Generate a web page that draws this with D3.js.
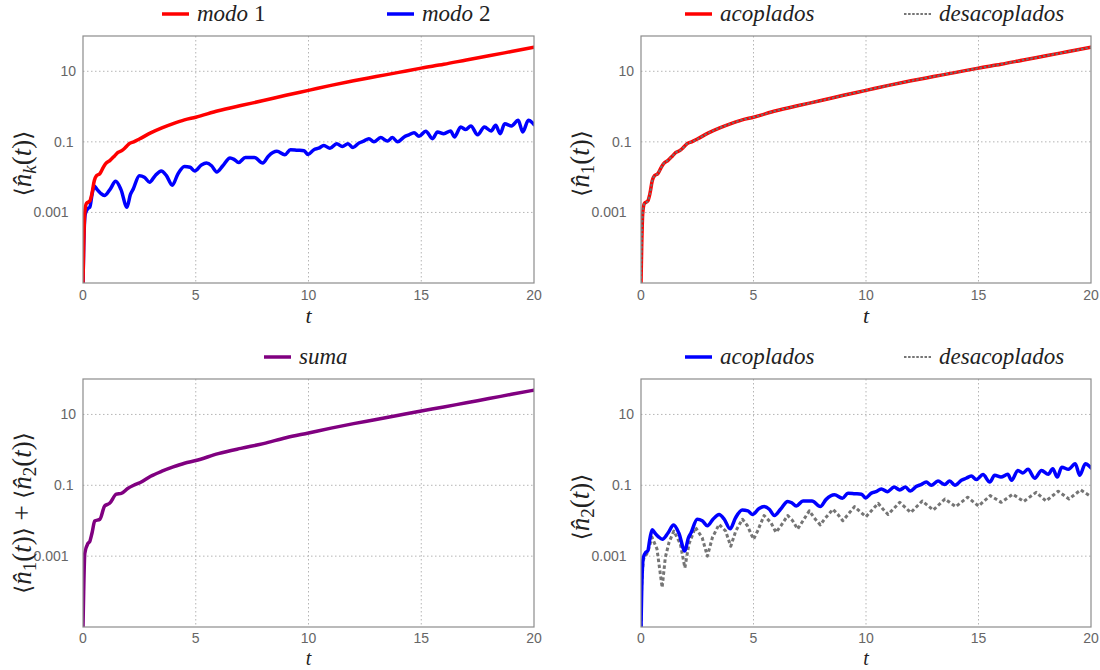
<!DOCTYPE html>
<html><head><meta charset="utf-8">
<script src="https://cdn.jsdelivr.net/npm/d3@7"></script>
<style>body{margin:0;background:#fff}</style>
</head><body>
<svg id="c" width="1100" height="670"></svg>
<script>
// ---------- data ----------
const tN1 = [0,0.03,0.08,0.15,0.3,0.4,0.5,0.6,0.75,0.9,1.0,1.2,1.4,1.55,1.75,1.9,2.05,2.25,2.5,3,3.5,4,4.5,5,6,7,8,9,10,11,12,13,14,15,16,17,18,19,20];
const n1Acoplados = [0.00001,0.0001,0.001,0.0018,0.0021,0.0035,0.0079,0.011,0.0126,0.019,0.024,0.030,0.040,0.050,0.058,0.071,0.089,0.10,0.12,0.18,0.25,0.33,0.42,0.50,0.76,1.07,1.48,2.09,2.88,3.98,5.37,7.08,9.33,12.3,15.8,20.9,27.5,36.3,47.9];
const n1Desacoplados = [0.00001,0.0001,0.001,0.0018,0.0021,0.0035,0.0079,0.011,0.0126,0.019,0.024,0.030,0.040,0.050,0.058,0.071,0.089,0.10,0.12,0.18,0.25,0.33,0.42,0.50,0.76,1.07,1.48,2.09,2.88,3.98,5.37,7.08,9.33,12.3,15.8,20.9,27.5,36.3,47.9];

const tN2 = [0,0.03,0.1,0.22,0.3,0.4,0.5,0.62,0.78,0.95,
  1.2,1.45,1.68,1.95,2.1,2.22,2.5,2.72,2.95,3.2,
  3.47,3.7,3.96,4.2,4.5,4.75,4.95,5.25,5.47,5.7,
  5.93,6.2,6.52,6.7,6.9,7.2,7.6,7.97,8.23,8.6,
  8.95,9.2,9.5,9.8,9.98,10.24,10.45,10.68,10.95,11.25,
  11.5,11.75,11.97,12.24,12.45,12.68,12.9,13.2,13.5,13.72,
  13.95,14.24,14.45,14.68,14.9,15.2,15.5,15.72,16.0,16.3,
  16.47,16.75,16.97,17.2,17.5,17.8,18.1,18.3,18.5,18.7,
  19.0,19.3,19.5,19.75,20];
const n2Acoplados = [0.00001,0.0001,0.00089,0.0013,0.0014,0.0032,0.0056,0.0045,0.0035,0.0030,
  0.0045,0.0076,0.0045,0.0014,0.0032,0.0045,0.011,0.010,0.0072,0.011,
  0.015,0.011,0.0059,0.012,0.020,0.019,0.015,0.022,0.025,0.021,
  0.014,0.021,0.035,0.032,0.026,0.036,0.036,0.025,0.040,0.054,
  0.043,0.060,0.058,0.056,0.044,0.060,0.066,0.079,0.066,0.089,
  0.074,0.089,0.069,0.093,0.105,0.123,0.100,0.132,0.105,0.132,
  0.100,0.138,0.158,0.182,0.145,0.200,0.123,0.191,0.170,0.204,
  0.138,0.263,0.224,0.282,0.158,0.263,0.204,0.295,0.170,0.324,
  0.282,0.407,0.191,0.407,0.309];

const tN2Des = [0,0.03,0.1,0.3,0.49,0.71,0.94,1.08,1.25,1.46,
  1.75,1.95,2.13,2.42,2.72,2.95,3.17,3.47,3.76,3.99,
  4.21,4.51,4.73,5.0,5.18,5.47,5.77,6.0,6.22,6.52,
  6.74,6.96,7.2,7.48,7.7,7.97,8.15,8.53,8.75,8.97,
  9.2,9.49,9.7,10.0,10.24,10.54,10.76,10.98,11.5,11.99,
  12.5,12.99,13.51,13.99,14.52,15.0,15.52,16.01,16.52,17.01,
  17.56,18.0,18.54,19.02,19.54,20];
const n2Desacoplados = [0.00001,0.00016,0.00079,0.0013,0.0034,0.0016,0.00013,0.00091,0.0025,0.0051,
  0.0022,0.00047,0.0022,0.0065,0.0033,0.0010,0.0033,0.0079,0.0051,0.0019,
  0.0051,0.011,0.0072,0.0030,0.0051,0.014,0.0089,0.0047,0.0072,0.014,
  0.010,0.0058,0.010,0.019,0.012,0.0076,0.011,0.021,0.015,0.010,
  0.015,0.025,0.019,0.013,0.019,0.031,0.021,0.015,0.033,0.017,
  0.036,0.020,0.041,0.025,0.046,0.026,0.051,0.033,0.056,0.035,
  0.063,0.036,0.068,0.041,0.074,0.048];

const tSuma = [0,0.03,0.08,0.22,0.3,0.4,0.52,0.75,0.96,1.18,1.48,1.7,1.98,2.25,2.54,3,3.5,4,4.5,5,6,7,8,9,10,11,12,13,14,15,16,17,18,19,20];
const suma = [0.00001,0.0001,0.0012,0.0023,0.0026,0.0045,0.0098,0.011,0.026,0.031,0.056,0.059,0.081,0.10,0.12,0.18,0.25,0.33,0.42,0.50,0.78,1.1,1.5,2.2,3.0,4.1,5.5,7.2,9.5,12.5,16.2,21.4,28.0,37.0,48.5];

const xTicks = [0,5,10,15,20];
const yTicks = [10,0.1,0.001];
const yTickLabels = ["10","0.1","0.001"];
const xDomain = [0,20];
const yDomain = [0.00001,100];

// ---------- drawing ----------
const svg = d3.select('#c');
const SERIF = "'Liberation Serif','DejaVu Serif',serif";
const SANS = "'Liberation Sans',Arial,sans-serif";

const panels = [
  {x0:83,x1:534,y0:36,y1:283, sub:'k',
   series:[{t:tN2,v:n2Acoplados,color:'#0000ff',w:3.5},
           {t:tN1,v:n1Acoplados,color:'#ff0000',w:3.5}],
   legend:[{label:'modo',num:' 1',color:'#ff0000',x:162},
           {label:'modo',num:' 2',color:'#0000ff',x:387}]},
  {x0:641,x1:1091,y0:36,y1:283, sub:'1',
   series:[{t:tN1,v:n1Acoplados,color:'#ff0000',w:3.5},
           {t:tN1,v:n1Desacoplados,color:'#707070',w:2,dash:'2.5,1.8'}],
   legend:[{label:'acoplados',color:'#ff0000',x:685},
           {label:'desacoplados',color:'#757575',x:904,dash:'2.5,1.6',lw:2.2}]},
  {x0:83,x1:534,y0:379,y1:627, sub:'sum',
   series:[{t:tSuma,v:suma,color:'#800080',w:3.5}],
   legend:[{label:'suma',color:'#800080',x:264}]},
  {x0:641,x1:1091,y0:379,y1:627, sub:'2',
   series:[{t:tN2Des,v:n2Desacoplados,color:'#757575',w:3,dash:'3.5,2.5',linear:true},
           {t:tN2,v:n2Acoplados,color:'#0000ff',w:3.5}],
   legend:[{label:'acoplados',color:'#0000ff',x:685},
           {label:'desacoplados',color:'#757575',x:904,dash:'2.5,1.6',lw:2.2}]}
];

function addTerm(text, idx){
  text.append('tspan').text('\u27E8').attr('font-family',"'DejaVu Serif',serif").attr('font-size','0.85em');
  text.append('tspan').text('n\u0302').attr('font-style','italic');
  const s = text.append('tspan').text(idx).attr('font-size','0.7em').attr('dy',5);
  if (idx==='k') s.attr('font-style','italic');
  text.append('tspan').text('(').attr('dy',-5);
  text.append('tspan').text('t').attr('font-style','italic');
  text.append('tspan').text(')');
  text.append('tspan').text('\u27E9').attr('font-family',"'DejaVu Serif',serif").attr('font-size','0.85em');
}

panels.forEach((p,i)=>{
  const g = svg.append('g');
  const x = d3.scaleLinear().domain(xDomain).range([p.x0,p.x1]);
  const y = d3.scaleLog().domain(yDomain).range([p.y1,p.y0]).clamp(true);
  const clipId = 'clip'+i;
  svg.append('clipPath').attr('id',clipId).append('rect')
     .attr('x',p.x0).attr('y',p.y0).attr('width',p.x1-p.x0).attr('height',p.y1-p.y0);

  // grid
  g.selectAll('.gx').data(xTicks.slice(1,-1)).enter().append('line')
    .attr('x1',d=>x(d)).attr('x2',d=>x(d)).attr('y1',p.y0).attr('y2',p.y1)
    .attr('stroke','#b5b5b5').attr('stroke-width',1).attr('stroke-dasharray','1.5,2.5');
  g.selectAll('.gy').data(yTicks).enter().append('line')
    .attr('x1',p.x0).attr('x2',p.x1).attr('y1',d=>y(d)).attr('y2',d=>y(d))
    .attr('stroke','#b5b5b5').attr('stroke-width',1).attr('stroke-dasharray','1.5,2.5');

  // series
  const sg = g.append('g').attr('clip-path',`url(#${clipId})`);
  p.series.forEach(s=>{
    const pts = s.t.map((t,k)=>[t,s.v[k]]);
    const line = d3.line().x(d=>x(d[0])).y(d=>y(d[1]))
      .curve(s.linear ? d3.curveLinear : d3.curveMonotoneX);
    sg.append('path').attr('d',line(pts)).attr('fill','none')
      .attr('stroke',s.color).attr('stroke-width',s.w)
      .attr('stroke-linejoin','round').attr('stroke-linecap', s.dash?'butt':'round')
      .attr('stroke-dasharray',s.dash||null);
  });

  // frame
  g.append('rect').attr('x',p.x0).attr('y',p.y0).attr('width',p.x1-p.x0).attr('height',p.y1-p.y0)
    .attr('fill','none').attr('stroke','#8c8c8c').attr('stroke-width',1.2);

  const bottomRow = p.y1 > 400;
  // tick labels
  g.selectAll('.tx').data(xTicks).enter().append('text')
    .attr('x',d=>x(d)).attr('y',p.y1+(bottomRow?16:17)).attr('text-anchor','middle')
    .attr('font-family',SANS).attr('font-size',14).attr('fill','#666').text(d=>d);
  g.selectAll('.ty').data(yTicks).enter().append('text')
    .attr('x',(d,k)=>p.x0-(2.5*yTickLabels[k].length+2)).attr('y',d=>y(d)+5).attr('text-anchor','end')
    .attr('font-family',SANS).attr('font-size',14).attr('fill','#666').text((d,k)=>yTickLabels[k]);

  // x label
  g.append('text').attr('x',(p.x0+p.x1)/2).attr('y',bottomRow ? 665 : p.y1+40).attr('text-anchor','middle')
    .attr('font-family',SERIF).attr('font-style','italic').attr('font-size',bottomRow?20:22).attr('fill','#222').text('t');

  // y label
  const cx = p.x0 - 52, cy = (p.y0+p.y1)/2 + (p.sub==='sum' ? 10 : 4);
  const yl = g.append('text').attr('transform',`translate(${cx},${cy}) rotate(-90)`)
    .attr('text-anchor','middle').attr('font-family',SERIF).attr('font-size',27).attr('fill','#222');
  if (p.sub==='sum'){ addTerm(yl,'1'); yl.append('tspan').text(' + '); addTerm(yl,'2'); }
  else addTerm(yl,p.sub);

  // legend
  const ly = p.y0 - 22;
  p.legend.forEach(l=>{
    g.append('line').attr('x1',l.x).attr('x2',l.x+27).attr('y1',ly).attr('y2',ly)
      .attr('stroke',l.color).attr('stroke-width',l.lw||3.5).attr('stroke-dasharray',l.dash||null);
    const t = g.append('text').attr('x',l.x+35).attr('y',ly+7)
      .attr('font-family',SERIF).attr('font-size',23).attr('fill','#222');
    t.append('tspan').attr('font-style','italic').text(l.label);
    if (l.num) t.append('tspan').text(l.num);
  });
});
</script>
</body></html>
